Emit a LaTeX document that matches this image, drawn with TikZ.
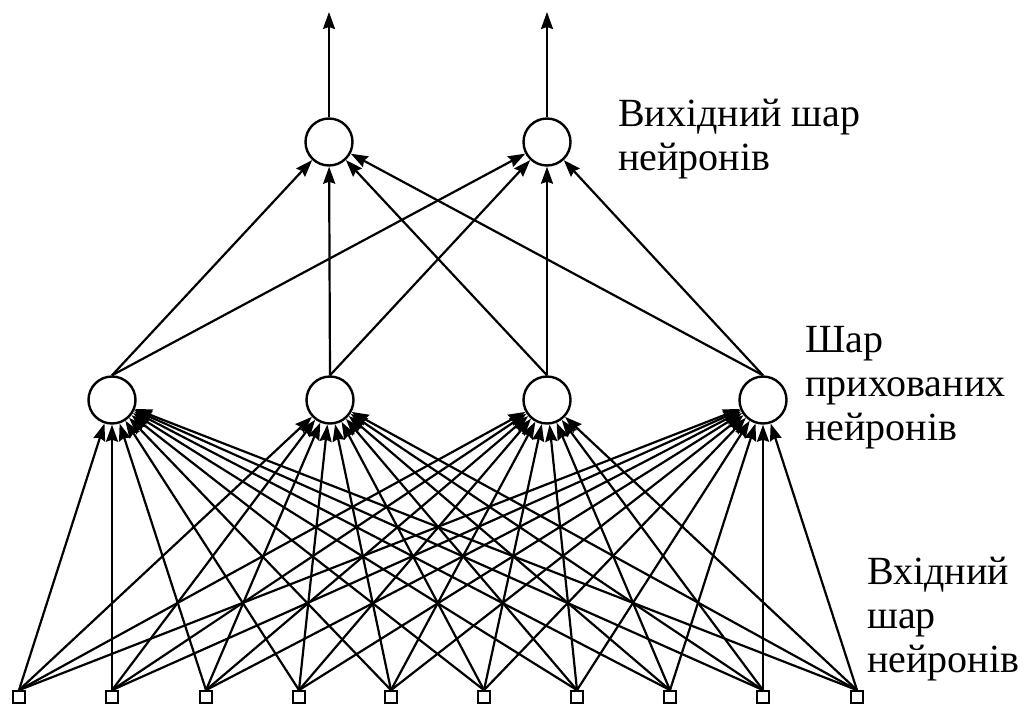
\documentclass[tikz,border=0pt]{standalone}
\usepackage{fontspec}
\setmainfont{Liberation Serif}
\usetikzlibrary{arrows.meta}
\begin{document}
\begin{tikzpicture}[x=1pt,y=-1pt,
 neuron/.style={circle,draw,line width=2.4pt,minimum size=47pt,inner sep=0pt,fill=white},
 inp/.style={rectangle,draw,line width=1.8pt,minimum size=12pt,inner sep=0pt,fill=white},
 conn/.style={line width=2.2pt,-{Stealth[length=17pt,width=12pt,inset=2pt]}},
 lbl/.style={anchor=base west,align=left,font=\fontsize{40}{44}\selectfont,inner sep=0pt}]
\useasboundingbox (0,0) rectangle (1024,709);
\foreach \x [count=\i] in {19,112,206,299,391,484,577,670,763,857}
  \node[inp] (i\i) at (\x,697) {};
\foreach \x [count=\j] in {112,330,547,763}
  \node[neuron] (h\j) at (\x,400) {};
\node[neuron] (o1) at (329,142) {};
\node[neuron] (o2) at (547,142) {};
\coordinate (t1) at (329,12);
\coordinate (t2) at (547,12);
\foreach \i in {1,...,10} \foreach \j in {1,...,4}
  \draw[conn] (i\i.north) -- (h\j);
\foreach \j in {1,...,4} \foreach \k in {1,2}
  \draw[conn] (h\j.north) -- (o\k);
\draw[conn] (o1.north) -- (t1);
\draw[conn] (o2.north) -- (t2);
\node[lbl] (l1) at (618,170) {Вихідний шар\\нейронів};
\node[lbl] (l2) at (805,440) {Шар\\прихованих\\нейронів};
\node[lbl] (l3) at (867,672) {Вхідний\\шар\\нейронів};
\end{tikzpicture}
\end{document}
